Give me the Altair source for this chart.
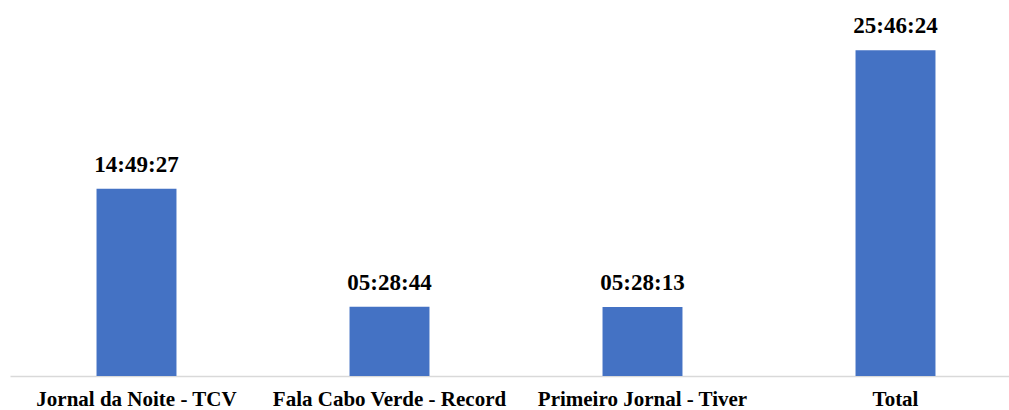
import altair as alt
import pandas as pd

categories = ["Jornal da Noite - TCV", "Fala Cabo Verde - Record", "Primeiro Jornal - Tiver", "Total"]
labels = ["14:49:27", "05:28:44", "05:28:13", "25:46:24"]

def to_seconds(t):
    h, m, s = (int(p) for p in t.split(":"))
    return h * 3600 + m * 60 + s

df = pd.DataFrame({
    "cat": categories,
    "label": labels,
    "seconds": [to_seconds(t) for t in labels],
})

FONT = "Liberation Serif"

xscale = alt.Scale(paddingInner=0.684, paddingOuter=0.342, range=[0, 1012])
x = alt.X("cat:N", sort=categories, title=None, scale=xscale,
          axis=alt.Axis(labelAngle=0, labelFont=FONT, labelFontWeight="bold",
                        labelFontSize=21, labelColor="#000000", ticks=False, tickSize=0,
                        labelPadding=29, labelBaseline="alphabetic",
                        labelLimit=0, domainColor="#d9d9d9", domainWidth=1.5, grid=False))
y = alt.Y("seconds:Q", scale=alt.Scale(domain=[0, 100000]), axis=None)

bars = alt.Chart(df).mark_bar(color="#4472c4").encode(x=x, y=y)
text = alt.Chart(df).mark_text(font=FONT, fontWeight="bold", fontSize=23,
                               baseline="alphabetic", dy=-17, color="#000000").encode(
    x=alt.X("cat:N", sort=categories, scale=xscale), y=y, text="label:N")

chart = (bars + text).properties(
    width=999, height=351,
    autosize=alt.AutoSizeParams(type="none"),
    padding={"left": 10, "top": 25, "right": 0, "bottom": 34},
    background="white",
).configure_view(stroke=None)

chart.save("out.html", embed_options={"renderer": "svg", "actions": False})
